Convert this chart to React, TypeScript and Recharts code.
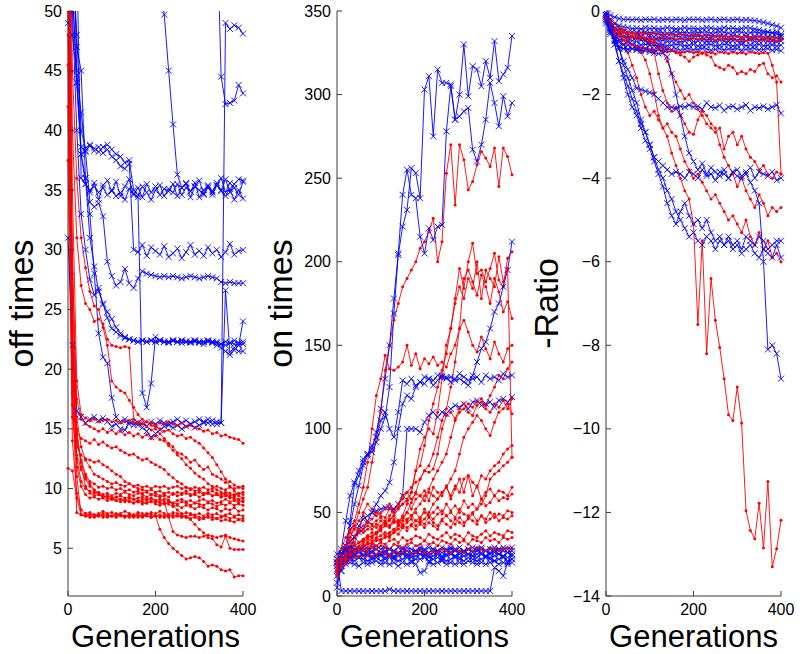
import { LineChart, Line, XAxis, YAxis } from "recharts";

const GENS = [
  0, 10, 20, 30, 40, 50, 60, 70, 80, 90,
  100, 110, 120, 130, 140, 150, 160, 170, 180, 190,
  200, 210, 220, 230, 240, 250, 260, 270, 280, 290,
  300, 310, 320, 330, 340, 350, 360, 370, 380, 390, 400,
];
const X_TICKS = [0, 200, 400];
const OFF_TICKS = [5, 10, 15, 20, 25, 30, 35, 40, 45, 50];
const ON_TICKS = [0, 50, 100, 150, 200, 250, 300, 350];
const RATIO_TICKS = [-14, -12, -10, -8, -6, -4, -2, 0];

// off times, red runs
const OFF_RED = [
  [70, 24, 11, 7.8, 7.7, 7.8, 7.6, 7.7, 7.8, 7.6,
   7.7, 7.6, 7.8, 7.7, 7.6, 7.7, 7.8, 7.6, 7.7, 7.6,
   7.7, 6.6, 5.9, 5.4, 5.0, 4.7, 4.4, 4.1, 4.2, 4.3,
   4.2, 3.9, 3.5, 3.6, 3.5, 3.2, 3.1, 3.2, 2.6, 2.7, 2.7],
  [60, 30, 15, 11.8, 10.2, 9.6, 9.4, 9.5, 9.3, 9.4,
   9.2, 9.3, 9.4, 9.2, 9.3, 9.1, 9.2, 9.3, 9.1, 9.2,
   9.0, 9.1, 8.9, 7.6, 6.4, 6.1, 6.0, 5.9, 6.0, 6.0,
   5.9, 6.0, 6.1, 6.0, 5.9, 6.0, 6.1, 5.9, 5.8, 5.7, 5.6],
  [45.5, 20, 14, 12.4, 11.2, 10.6, 10.4, 10.1, 10.2, 10.0,
   10.1, 9.9, 10.0, 9.8, 9.9, 9.7, 9.8, 9.6, 9.7, 9.5,
   9.4, 9.3, 9.4, 9.0, 8.6, 8.2, 7.9, 7.6, 7.4, 7.0,
   6.6, 6.3, 5.9, 5.8, 5.3, 5.1, 6.0, 5.0, 4.9, 4.9, 4.9],
  [80, 19, 8.0, 7.8, 7.7, 7.6, 7.7, 7.8, 7.6, 7.7,
   7.7, 7.8, 7.7, 7.6, 7.8, 7.7, 7.6, 7.7, 7.8, 7.6,
   7.7, 7.6, 7.7, 7.8, 7.6, 7.7, 7.7, 7.6, 7.8, 7.7,
   7.6, 7.5, 7.7, 7.6, 7.5, 7.6, 7.7, 7.5, 7.6, 7.4, 7.5],
  [37.5, 14, 9.6, 8.2, 7.9, 7.8, 7.8, 7.7, 7.9, 7.8,
   7.7, 7.9, 7.8, 7.7, 7.8, 7.6, 7.8, 7.7, 7.9, 7.8,
   7.7, 7.8, 7.6, 7.7, 7.8, 7.7, 7.6, 7.7, 7.5, 7.6,
   7.4, 7.5, 7.6, 7.4, 7.5, 7.3, 7.4, 7.3, 7.2, 7.4, 7.3],
  [11.7, 11.5, 9.2, 7.8, 7.9, 8.0, 7.8, 7.9, 8.1, 7.9,
   8.0, 7.8, 7.9, 8.1, 7.9, 7.8, 8.0, 7.9, 7.8, 8.0,
   7.9, 8.1, 7.9, 7.8, 8.0, 7.9, 7.8, 8.0, 7.9, 7.8,
   7.9, 7.7, 7.9, 7.8, 7.9, 7.7, 7.8, 7.9, 7.7, 7.8, 7.7],
  [55, 26, 16, 13.5, 12.4, 11.8, 11.2, 11.0, 10.8, 10.6,
   10.4, 10.5, 10.3, 10.2, 10.4, 10.2, 10.3, 10.1, 10.2, 10.0,
   10.2, 10.1, 10.2, 10.0, 10.1, 10.2, 10.0, 10.1, 9.9, 10.1,
   10.0, 10.1, 9.9, 10.0, 10.2, 10.0, 9.9, 10.1, 10.0, 10.1, 10.0],
  [65, 20, 12.5, 10.6, 10.0, 9.8, 9.6, 9.7, 9.5, 9.6,
   9.4, 9.6, 9.5, 9.7, 9.5, 9.4, 9.6, 9.5, 9.3, 9.5,
   9.6, 9.4, 9.5, 9.3, 9.6, 9.4, 9.5, 9.6, 9.4, 9.5,
   9.3, 9.5, 9.6, 9.4, 9.5, 9.3, 9.6, 9.4, 9.5, 9.6, 9.5],
  [48, 17, 11.8, 10.2, 9.5, 9.2, 9.3, 9.1, 9.2, 9.0,
   9.1, 9.3, 9.1, 9.0, 9.2, 9.1, 8.9, 9.1, 9.0, 9.2,
   9.0, 8.9, 9.1, 9.0, 8.8, 9.0, 9.1, 8.9, 9.0, 8.8,
   9.0, 9.1, 8.9, 9.0, 8.8, 8.9, 9.1, 8.9, 9.0, 8.8, 9.0],
  [58, 22, 14.5, 12.2, 11.0, 10.4, 9.9, 9.6, 9.4, 9.2,
   9.1, 9.0, 8.9, 9.1, 8.9, 8.8, 9.0, 8.9, 8.8, 9.0,
   8.9, 8.8, 8.7, 8.9, 8.8, 8.7, 8.9, 8.8, 8.6, 8.8,
   8.7, 8.6, 8.8, 8.7, 8.5, 8.7, 8.6, 8.8, 8.6, 8.7, 8.6],
  [42, 16, 12.8, 11.6, 10.8, 10.2, 9.8, 9.5, 9.3, 9.4,
   9.2, 9.0, 9.1, 8.9, 9.0, 8.8, 8.9, 8.7, 8.8, 8.9,
   8.7, 8.6, 8.8, 8.7, 8.5, 8.6, 8.4, 8.6, 8.5, 8.3,
   8.5, 8.4, 8.2, 8.4, 8.3, 8.1, 8.3, 8.2, 8.4, 8.1, 8.2],
  [70, 35, 19, 16.2, 15.9, 15.7, 15.8, 15.6, 15.7, 15.8,
   15.6, 15.7, 15.5, 15.6, 15.7, 15.5, 15.6, 15.4, 15.6, 15.5,
   15.3, 15.5, 15.4, 15.6, 15.4, 15.3, 15.5, 15.2, 15.3, 15.1,
   15.0, 14.8, 14.9, 14.6, 14.7, 14.4, 14.5, 14.3, 14.2, 14.1, 13.8],
  [52, 28, 17.5, 15.8, 15.4, 15.2, 15.0, 14.8, 15.0, 14.7,
   14.9, 14.6, 14.8, 14.5, 14.7, 14.4, 14.6, 14.3, 14.5, 14.2,
   14.4, 14.1, 14.0, 13.6, 13.2, 12.8, 12.5, 12.0, 11.7, 11.3,
   11.0, 10.8, 10.4, 10.2, 9.9, 9.7, 9.5, 9.3, 9.1, 9.0, 8.9],
  [75, 45, 36, 31, 28.5, 26.5, 25.3, 25.0, 23.5, 22.0,
   19.0, 18.5, 18.2, 18.0, 17.4, 16.8, 16.2, 15.8, 15.2, 14.9,
   15.0, 14.6, 14.2, 13.8, 13.5, 13.0, 12.9, 12.6, 12.2, 12.4,
   11.9, 11.6, 11.8, 11.2, 11.0, 10.8, 10.5, 10.6, 10.3, 10.1, 10.2],
  [66, 40, 31, 27, 25.5, 25.0, 24.0, 24.2, 23.8, 22.5,
   22.0, 21.9, 21.8, 21.9, 21.8, 15.8, 15.5, 15.4, 15.6, 15.3,
   15.2, 15.0, 14.8, 14.9, 14.6, 14.4, 14.5, 14.2, 14.3, 14.0,
   13.8, 13.4, 13.0, 12.6, 12.0, 11.4, 10.8, 10.2, 9.8, 9.4, 9.2],
  [50, 18, 13.5, 12.8, 12.5, 12.4, 12.2, 12.3, 12.0, 11.8,
   11.5, 11.2, 11.0, 10.6, 10.4, 10.2, 10.0, 9.9, 9.8, 9.9,
   9.7, 9.8, 9.6, 9.7, 9.5, 9.7, 9.6, 9.8, 9.5, 9.6,
   9.7, 9.5, 9.6, 9.8, 9.6, 9.5, 9.7, 9.6, 9.4, 9.6, 9.7],
  [62, 24, 14.8, 14.2, 14.0, 13.8, 14.1, 13.7, 13.9, 13.6,
   13.4, 13.5, 13.2, 13.0, 12.8, 12.9, 12.6, 12.4, 12.5, 12.2,
   12.0, 11.8, 11.6, 11.2, 10.9, 10.6, 10.4, 10.1, 10.0, 9.8,
   9.9, 9.6, 9.7, 9.4, 9.5, 9.3, 9.4, 9.2, 9.3, 9.1, 9.2],
];

// off times, blue runs
const OFF_BLUE = [
  [49, 60, 55, 36, 35.5, 34.8, 35.6, 34.2, 35.4, 35.8,
   34.9, 35.7, 34.5, 35.3, 35.9, 34.6, 35.2, 34.4, 35.5, 34.8,
   35.3, 34.6, 35.1, 34.9, 35.5, 34.5, 35.2, 35.6, 34.4, 35.3,
   35.8, 34.7, 35.4, 34.9, 35.6, 35.0, 35.9, 34.8, 35.5, 35.9, 35.8],
  [65, 52, 44, 38.6, 38.3, 38.7, 38.5, 38.2, 38.6, 38.8,
   38.4, 38.0, 37.8, 37.3, 37.5, 35.0, 34.6, 35.3, 34.8, 34.2,
   35.0, 35.4, 34.5, 35.1, 34.8, 35.5, 34.6, 35.2, 34.9, 35.6,
   34.4, 35.0, 35.3, 34.6, 35.4, 34.9, 34.5, 35.1, 34.2, 35.0, 34.3],
  [58, 48, 44.6, 41.5, 38.2, 34.0, 33.6, 33.9, 32.8, 29.0,
   27.8, 27.0, 27.3, 28.4, 27.2, 26.8, 27.6, 28.2, 28.0, 27.9,
   27.8, 27.7, 27.8, 27.7, 27.8, 27.7, 27.6, 27.7, 27.8, 27.7,
   27.6, 27.7, 27.8, 27.7, 27.6, 27.3, 27.2, 27.3, 27.2, 27.2, 27.2],
  [70, 55, 48, 40, 38.5, 38.8, 38.3, 38.6, 38.1, 38.4,
   37.8, 37.5, 37.0, 36.8, 37.2, 30.0, 29.8, 30.4, 29.5, 30.2,
   29.9, 29.6, 30.3, 29.4, 29.7, 30.1, 29.3, 29.8, 30.4, 29.6,
   29.9, 29.5, 30.2, 29.7, 30.0, 29.4, 29.8, 30.5, 29.6, 29.9, 30.0],
  [75, 56, 47, 45, 36, 31, 28.6, 26.5, 25.5, 24.3,
   23.4, 23.1, 22.8, 22.7, 22.5, 22.4, 22.3, 22.4, 22.3, 22.4,
   22.3, 22.4, 22.3, 22.3, 22.4, 22.3, 22.4, 22.3, 22.3, 22.4,
   22.3, 22.3, 22.4, 22.3, 22.3, 22.1, 22.0, 22.2, 22.1, 22.0, 22.1],
  [31, 22, 16.5, 16.0, 15.5, 15.8, 16.0, 15.7, 15.9, 15.6,
   15.2, 15.4, 15.0, 14.9, 15.6, 15.3, 15.5, 15.1, 14.8, 14.3,
   14.6, 14.9, 15.2, 15.4, 15.1, 15.3, 15.0, 15.2, 15.4, 15.1,
   15.3, 15.5, 15.8, 15.4, 15.6, 15.5, 49.0, 48.5, 48.8, 48.6, 48.1],
  [70, 60, 45, 38, 35.5, 35.0, 35.3, 34.8, 35.2, 34.6,
   35.0, 34.5, 34.8, 34.2, 35.1, 34.7, 34.4, 18.0, 16.8, 18.8,
   22.7, 22.4, 22.3, 22.2, 22.4, 22.3, 22.2, 22.3, 22.2, 22.3,
   22.2, 22.1, 22.3, 22.2, 22.0, 22.1, 22.3, 22.2, 22.4, 22.2, 22.3],
  [55, 58, 60, 62, 64, 66, 63, 60, 62, 65,
   63, 58, 60, 62, 57, 60, 55, 58, 60, 56,
   54, 52, 49.7, 45, 40.5, 36.3, 35.2, 35.5, 34.9, 35.3,
   35.0, 34.6, 35.2, 34.8, 35.4, 36.0, 34.8, 35.6, 35.2, 34.6, 35.7],
  [65, 62, 58, 60, 63, 61, 64, 62, 65, 60,
   62, 64, 61, 63, 60, 62, 64, 61, 63, 60,
   62, 64, 61, 63, 60, 62, 64, 61, 63, 60,
   62, 64, 61, 60, 58, 44.5, 42.2, 42.3, 42.5, 43.8, 43.1],
  [60, 50, 40, 33, 30, 27.5, 26.2, 26.8, 25.4, 24.8,
   24.2, 23.5, 23.0, 22.6, 22.5, 22.4, 22.3, 22.4, 22.3, 22.4,
   22.3, 22.4, 22.3, 22.3, 22.4, 22.3, 22.4, 22.3, 22.3, 22.4,
   22.3, 22.3, 22.4, 22.3, 22.2, 21.8, 21.5, 21.2, 21.6, 22.0, 24.0],
  [60, 52, 44, 38, 36, 33, 28, 23, 21, 20.5,
   17.6, 16.0, 15.6, 15.8, 15.4, 15.6, 15.3, 15.5, 15.2, 15.6,
   15.4, 15.7, 15.5, 15.3, 15.6, 15.8, 15.5, 15.7, 15.4, 15.6,
   15.8, 15.6, 15.5, 15.7, 15.4, 15.5, 26.6, 21.4, 21.8, 21.5, 21.5],
];

// on times, red runs
const ON_RED = [
  [20, 23, 28, 35, 42, 50, 58, 65, 80, 95,
   110, 135, 150, 165, 175, 185, 190, 195, 200, 208,
   212, 218, 226, 200, 212, 253, 270, 234, 270, 261,
   243, 248, 258, 266, 262, 257, 268, 245, 268, 263, 252],
  [18, 22, 25, 28, 30, 32, 33, 35, 36, 38,
   40, 42, 45, 48, 52, 55, 58, 62, 75, 78,
   90, 105, 115, 125, 135, 145, 160, 178, 196, 184,
   200, 211, 193, 195, 188, 196, 205, 189, 185, 202, 206],
  [15, 18, 20, 22, 25, 28, 30, 32, 35, 38,
   42, 45, 48, 52, 55, 58, 62, 65, 68, 70,
   75, 78, 85, 95, 105, 112, 125, 140, 160, 190,
   195, 188, 180, 192, 185, 175, 190, 182, 170, 176, 166],
  [20, 24, 30, 38, 45, 55, 65, 80, 100, 120,
   130, 144, 136, 135, 137, 140, 150, 138, 145, 136,
   142, 139, 143, 138, 140, 137, 145, 150, 160, 165,
   158, 150, 146, 155, 148, 142, 152, 145, 140, 148, 150],
  [15, 20, 25, 30, 35, 40, 42, 44, 43, 45,
   47, 44, 46, 48, 45, 47, 50, 48, 52, 55,
   60, 64, 70, 75, 80, 85, 95, 105, 110, 112,
   115, 113, 116, 118, 114, 120, 125, 132, 130, 136, 140],
  [12, 18, 22, 26, 28, 30, 32, 34, 33, 35,
   36, 38, 37, 40, 42, 45, 50, 56, 62, 70,
   75, 74, 76, 85, 100, 108, 110, 106, 112, 115,
   110, 108, 114, 116, 112, 110, 115, 113, 117, 112, 118],
  [14, 18, 22, 25, 27, 28, 30, 31, 32, 34,
   33, 35, 36, 38, 40, 42, 41, 43, 45, 44,
   46, 50, 55, 58, 62, 65, 70, 75, 85, 95,
   100, 104, 108, 105, 100, 96, 104, 110, 112, 115, 109],
  [16, 20, 24, 28, 32, 38, 50, 55, 52, 48,
   50, 52, 55, 50, 53, 55, 57, 52, 58, 60,
   57, 62, 60, 58, 62, 65, 60, 66, 62, 70,
   72, 68, 65, 72, 70, 75, 78, 80, 85, 88, 90],
  [18, 22, 25, 28, 30, 32, 34, 36, 35, 38,
   40, 42, 41, 44, 45, 43, 46, 48, 45, 47,
   50, 48, 46, 49, 51, 48, 50, 47, 52, 49,
   48, 50, 52, 55, 60, 70, 73, 75, 78, 80, 83],
  [20, 25, 30, 35, 40, 45, 48, 44, 46, 50,
   48, 47, 52, 50, 55, 60, 62, 58, 61, 60,
   63, 57, 65, 62, 60, 66, 58, 64, 70, 62,
   72, 60, 66, 58, 62, 64, 60, 63, 62, 60, 65],
  [22, 28, 35, 40, 42, 40, 38, 40, 42, 41,
   45, 43, 42, 46, 44, 47, 45, 48, 50, 46,
   52, 48, 50, 53, 49, 55, 51, 54, 50, 57,
   53, 55, 52, 58, 54, 56, 60, 57, 59, 58, 61],
  [15, 20, 26, 32, 36, 38, 40, 42, 40, 43,
   41, 44, 42, 45, 43, 41, 44, 46, 42, 45,
   43, 47, 44, 42, 46, 48, 45, 43, 47, 44,
   46, 49, 45, 48, 46, 50, 47, 49, 48, 51, 50],
  [18, 22, 25, 28, 30, 32, 34, 36, 38, 37,
   39, 36, 38, 40, 37, 41, 39, 42, 40, 43,
   41, 44, 42, 40, 45, 43, 41, 46, 44, 42,
   47, 45, 43, 48, 44, 46, 49, 45, 47, 46, 48],
  [14, 18, 22, 25, 27, 28, 30, 29, 31, 30,
   32, 31, 33, 34, 32, 35, 33, 34, 36, 35,
   33, 37, 35, 34, 36, 38, 35, 37, 36, 34,
   38, 36, 35, 37, 39, 36, 38, 37, 36, 39, 38],
  [16, 20, 23, 25, 26, 27, 28, 27, 29, 28,
   30, 29, 28, 31, 30, 29, 31, 32, 30, 31,
   33, 31, 32, 30, 33, 32, 31, 34, 32, 33,
   31, 34, 33, 32, 35, 33, 34, 32, 35, 34, 35],
  [12, 17, 20, 22, 23, 24, 24, 25, 24, 25,
   26, 25, 24, 26, 25, 26, 27, 25, 26, 27,
   26, 25, 27, 26, 28, 27, 26, 28, 27, 26,
   28, 27, 29, 28, 27, 29, 28, 27, 28, 29, 28],
  [14, 18, 22, 25, 27, 29, 30, 32, 31, 33,
   34, 36, 35, 38, 42, 48, 55, 62, 75, 88,
   95, 100, 97, 110, 130, 150, 160, 175, 185, 178,
   190, 184, 200, 178, 195, 190, 185, 203, 188, 196, 83],
];

// on times, blue runs
const ON_BLUE = [
  [20, 15, 28, 45, 67, 72, 80, 85, 86, 92,
   100, 107, 125, 169, 204, 221, 231, 256, 253, 238,
   303, 311, 275, 315, 307, 307, 306, 285, 300, 330,
   299, 317, 315, 305, 320, 310, 332, 308, 312, 316, 335],
  [18, 22, 30, 42, 55, 66, 78, 84, 88, 98,
   112, 130, 150, 178, 205, 240, 255, 240, 238, 215,
   205, 220, 213, 221, 222, 278, 305, 285, 287, 290,
   292, 267, 260, 270, 285, 307, 295, 281, 299, 287, 295],
  [16, 20, 24, 28, 35, 42, 46, 48, 50, 51,
   52, 53, 53, 52, 55, 60, 100, 100, 100, 98,
   104, 108, 110, 107, 110, 109, 112, 114, 113, 115,
   112, 116, 117, 114, 115, 116, 113, 117, 118, 116, 119],
  [22, 28, 45, 60, 68, 75, 82, 85, 90, 95,
   105, 110, 100, 95, 110, 129, 127, 130, 126, 128,
   131, 130, 129, 132, 131, 130, 131, 129, 130, 128,
   126, 132, 140, 148, 152, 160, 170, 175, 185, 195, 212],
  [20, 25, 30, 33, 35, 38, 40, 45, 50, 55,
   60, 63, 68, 80, 100, 115, 120, 118, 125, 128,
   127, 130, 126, 129, 132, 131, 128, 130, 133, 131,
   129, 130, 131, 128, 132, 130, 131, 129, 133, 131, 132],
  [20, 3, 3, 3, 3, 3, 3, 3, 3, 3,
   3, 3, 4, 3, 3, 3, 3, 3, 3, 3,
   3, 3, 3, 3, 3, 3, 3, 3, 3, 3,
   3, 3, 3, 3, 3, 3, 17, 15, 12, 20, 22],
  [12, 24, 27, 26, 27, 28, 27, 26, 27, 28,
   26, 27, 28, 27, 26, 28, 27, 26, 27, 28,
   27, 26, 28, 27, 26, 27, 28, 27, 26, 27,
   28, 26, 27, 28, 27, 26, 27, 28, 27, 26, 27],
  [18, 22, 25, 24, 25, 26, 24, 25, 26, 25,
   24, 26, 25, 24, 25, 26, 25, 24, 26, 25,
   25, 24, 26, 25, 24, 25, 26, 24, 25, 26,
   25, 24, 25, 26, 24, 25, 26, 25, 24, 26, 25],
  [8, 18, 21, 22, 21, 23, 22, 21, 22, 23,
   21, 22, 23, 22, 21, 22, 23, 21, 22, 22,
   23, 21, 22, 23, 22, 21, 22, 23, 22, 21,
   23, 22, 21, 22, 23, 22, 21, 22, 23, 21, 22],
  [22, 15, 19, 20, 19, 18, 20, 19, 20, 21,
   19, 20, 19, 20, 18, 20, 19, 20, 19, 14,
   15, 20, 19, 20, 21, 19, 20, 19, 20, 19,
   21, 20, 19, 20, 19, 20, 21, 19, 20, 19, 20],
  [25, 26, 28, 29, 28, 27, 29, 28, 29, 30,
   28, 29, 28, 27, 29, 28, 29, 28, 27, 29,
   28, 29, 28, 27, 29, 28, 29, 28, 29, 27,
   28, 29, 28, 29, 27, 28, 29, 28, 29, 28, 29],
  [5, 20, 24, 23, 24, 23, 25, 24, 23, 24,
   25, 23, 24, 23, 24, 25, 24, 23, 24, 25,
   24, 23, 24, 25, 23, 24, 25, 24, 23, 24,
   25, 24, 23, 25, 24, 23, 24, 25, 24, 23, 24],
];

// -Ratio, red runs
const RATIO_RED = [
  [-0.1, -0.25, -0.4, -0.5, -0.6, -0.7, -0.8, -0.9, -1.0, -1.17,
   -1.5, -1.95, -2.5, -2.8, -3.0, -3.4, -3.7, -4.0, -4.3, -4.5,
   -5.1, -7.5, -5.5, -8.2, -6.4, -7.4, -8.05, -8.8, -9.66, -9.8,
   -9.0, -9.86, -11.96, -12.43, -12.63, -11.78, -12.85, -11.26, -13.3, -12.87, -12.19],
  [-0.1, -0.3, -0.5, -0.7, -0.8, -1.0, -1.3, -1.6, -2.0, -2.3,
   -2.5, -2.4, -2.6, -2.8, -2.7, -2.9, -3.0, -3.3, -3.6, -3.8,
   -4.0, -3.9, -4.1, -4.3, -4.5, -4.4, -4.6, -4.8, -5.0, -4.9,
   -5.1, -5.3, -5.0, -5.4, -5.6, -5.3, -5.7, -5.5, -5.9, -5.8, -6.0],
  [-0.2, -0.4, -0.5, -0.55, -0.6, -0.62, -0.6, -0.65, -0.63, -0.7,
   -0.8, -1.0, -1.5, -1.9, -2.2, -2.4, -2.3, -2.5, -2.7, -2.9,
   -2.95, -2.6, -2.4, -2.5, -2.7, -2.8, -3.2, -3.5, -3.7, -3.9,
   -4.2, -4.0, -4.3, -4.5, -4.7, -4.4, -4.6, -4.9, -4.7, -4.8, -4.7],
  [-0.1, -0.25, -0.4, -0.45, -0.5, -0.55, -0.6, -0.62, -0.65, -0.7,
   -0.75, -0.8, -0.85, -1.0, -1.2, -1.5, -1.7, -1.9, -2.1, -2.0,
   -2.2, -2.35, -2.5, -2.7, -2.8, -2.9, -2.8, -3.3, -3.0, -2.9,
   -3.2, -3.0, -3.3, -3.5, -3.6, -3.8, -3.7, -3.9, -4.0, -3.85, -3.9],
  [-0.1, -0.2, -0.3, -0.4, -0.45, -0.5, -0.52, -0.55, -0.6, -0.65,
   -0.7, -0.75, -0.8, -0.85, -0.9, -0.95, -1.0, -1.05, -1.1, -1.2,
   -1.1, -1.05, -1.0, -1.05, -1.1, -1.3, -1.35, -1.4, -1.3, -1.35,
   -1.5, -1.45, -1.5, -1.4, -1.45, -1.3, -1.25, -1.5, -1.6, -1.55, -1.7],
  [-0.15, -0.4, -0.55, -0.6, -0.62, -0.65, -0.63, -0.66, -0.64, -0.67,
   -0.65, -0.68, -0.66, -0.64, -0.67, -0.65, -0.68, -0.66, -0.69, -0.67,
   -0.65, -0.68, -0.66, -0.69, -0.67, -0.7, -0.68, -0.66, -0.69, -0.67,
   -0.7, -0.68, -0.71, -0.69, -0.67, -0.7, -0.68, -0.71, -0.69, -0.72, -0.7],
  [-0.1, -0.3, -0.45, -0.5, -0.52, -0.5, -0.53, -0.55, -0.52, -0.54,
   -0.56, -0.53, -0.55, -0.57, -0.54, -0.56, -0.58, -0.55, -0.57, -0.6,
   -0.56, -0.58, -0.6, -0.57, -0.59, -0.61, -0.58, -0.6, -0.62, -0.59,
   -0.61, -0.63, -0.6, -0.62, -0.64, -0.61, -0.63, -0.65, -0.62, -0.64, -0.66],
  [-0.2, -0.35, -0.5, -0.6, -0.7, -0.75, -0.8, -0.85, -0.88, -0.9,
   -0.92, -0.95, -0.93, -0.96, -0.98, -0.95, -0.97, -1.0, -0.98, -0.97,
   -1.0, -0.98, -1.02, -0.99, -1.0, -1.03, -0.98, -1.0, -1.02, -0.99,
   -1.01, -1.0, -1.03, -0.98, -1.0, -1.02, -1.0, -1.01, -1.3, -1.7, -3.9],
];

// -Ratio, blue runs
const RATIO_BLUE = [
  [-0.05, -0.1, -0.15, -0.18, -0.2, -0.2, -0.21, -0.2, -0.22, -0.2,
   -0.21, -0.2, -0.22, -0.21, -0.2, -0.22, -0.2, -0.21, -0.22, -0.2,
   -0.21, -0.2, -0.22, -0.21, -0.2, -0.22, -0.21, -0.2, -0.22, -0.21,
   -0.2, -0.22, -0.21, -0.22, -0.23, -0.25, -0.27, -0.3, -0.33, -0.36, -0.4],
  [-0.1, -0.3, -0.42, -0.48, -0.5, -0.52, -0.5, -0.51, -0.53, -0.5,
   -0.52, -0.51, -0.5, -0.52, -0.53, -0.51, -0.5, -0.52, -0.51, -0.53,
   -0.5, -0.52, -0.51, -0.5, -0.53, -0.52, -0.5, -0.51, -0.53, -0.52,
   -0.5, -0.51, -0.53, -0.52, -0.5, -0.52, -0.53, -0.51, -0.52, -0.5, -0.55],
  [-0.2, -0.4, -0.55, -0.6, -0.62, -0.6, -0.63, -0.61, -0.62, -0.64,
   -0.6, -0.62, -0.63, -0.61, -0.62, -0.64, -0.6, -0.62, -0.63, -0.61,
   -0.62, -0.6, -0.63, -0.62, -0.64, -0.61, -0.62, -0.6, -0.63, -0.62,
   -0.61, -0.63, -0.62, -0.64, -0.6, -0.62, -0.63, -0.61, -0.62, -0.64, -0.62],
  [-0.15, -0.45, -0.6, -0.68, -0.7, -0.72, -0.71, -0.73, -0.7, -0.72,
   -0.74, -0.71, -0.72, -0.7, -0.73, -0.72, -0.71, -0.74, -0.72, -0.7,
   -0.73, -0.72, -0.71, -0.73, -0.72, -0.74, -0.7, -0.72, -0.73, -0.71,
   -0.72, -0.74, -0.72, -0.7, -0.73, -0.72, -0.71, -0.73, -0.72, -0.74, -0.72],
  [-0.25, -0.5, -0.66, -0.75, -0.8, -0.82, -0.8, -0.83, -0.81, -0.8,
   -0.82, -0.84, -0.81, -0.8, -0.83, -0.82, -0.8, -0.81, -0.83, -0.82,
   -0.8, -0.84, -0.82, -0.81, -0.8, -0.83, -0.82, -0.8, -0.81, -0.84,
   -0.82, -0.8, -0.83, -0.81, -0.82, -0.8, -0.83, -0.82, -0.81, -0.84, -0.82],
  [-0.3, -0.55, -0.72, -0.85, -0.9, -0.92, -0.9, -0.93, -0.91, -0.9,
   -0.94, -0.92, -0.9, -0.91, -0.93, -0.92, -0.9, -0.94, -0.91, -0.9,
   -0.93, -0.92, -0.9, -0.91, -0.94, -0.92, -0.9, -0.93, -0.91, -0.92,
   -0.9, -0.94, -0.92, -0.91, -0.9, -0.93, -0.92, -0.9, -0.94, -0.92, -0.95],
  [-0.05, -0.2, -0.3, -0.35, -0.38, -0.4, -0.42, -0.41, -0.43, -0.4,
   -0.42, -0.41, -0.43, -0.42, -0.4, -0.41, -0.43, -0.42, -0.4, -0.42,
   -0.41, -0.43, -0.42, -0.4, -0.41, -0.43, -0.42, -0.4, -0.42, -0.41,
   -0.43, -0.42, -0.4, -0.41, -0.43, -0.45, -0.48, -0.5, -0.52, -0.55, -0.6],
  [-0.1, -0.4, -0.7, -0.9, -1.2, -1.4, -1.6, -1.85, -1.88, -1.92,
   -1.95, -2.0, -2.1, -2.2, -2.3, -2.3, -2.35, -2.28, -2.3, -2.25,
   -2.3, -2.28, -2.35, -2.2, -2.3, -2.32, -2.26, -2.38, -2.3, -2.28,
   -2.35, -2.3, -2.25, -2.38, -2.3, -2.32, -2.28, -2.35, -2.3, -2.25, -2.45],
  [-0.2, -0.5, -0.7, -0.85, -0.9, -0.92, -0.9, -0.93, -0.95, -0.95,
   -0.98, -1.0, -1.02, -1.0, -1.1, -1.5, -2.0, -2.5, -3.0, -3.4,
   -3.6, -3.8, -3.65, -3.9, -3.75, -3.85, -3.95, -3.8, -4.0, -3.85,
   -3.8, -3.95, -3.85, -3.75, -4.0, -3.85, -3.9, -3.95, -3.85, -4.05, -4.0],
  [-0.1, -0.35, -0.8, -1.2, -1.5, -1.8, -2.1, -2.4, -2.7, -2.9,
   -3.2, -3.5, -3.6, -3.7, -3.8, -3.9, -3.85, -3.9, -4.0, -3.85,
   -3.9, -4.0, -3.8, -3.95, -3.9, -4.05, -3.85, -3.9, -4.0, -3.85,
   -3.95, -4.0, -3.9, -4.1, -4.3, -4.6, -6.0, -8.1, -8.0, -8.2, -8.8],
  [-0.05, -0.3, -0.6, -0.9, -1.3, -1.6, -1.9, -2.2, -2.6, -2.9,
   -3.2, -3.5, -3.8, -4.0, -4.3, -4.5, -4.8, -5.0, -5.2, -5.4,
   -5.3, -5.5, -5.6, -5.4, -5.5, -5.7, -5.5, -5.6, -5.4, -5.6,
   -5.5, -5.7, -5.4, -5.5, -5.6, -5.4, -5.5, -5.7, -5.6, -5.5, -5.5],
  [-0.1, -0.4, -0.8, -1.2, -1.6, -2.0, -2.3, -2.5, -2.8, -3.1,
   -3.3, -3.6, -3.9, -4.2, -4.6, -4.9, -5.1, -4.8, -4.6, -4.9,
   -5.1, -5.0, -5.2, -5.0, -5.3, -5.5, -5.4, -5.6, -5.5, -5.7,
   -5.6, -5.8, -5.7, -5.6, -5.8, -5.9, -5.7, -5.8, -5.9, -5.6, -5.9],
];

const RED = "#ff0000";
const BLUE = "#0000ff";
const AXIS = "#3a3a3a";
const FONT = '"Liberation Sans", Arial, Helvetica, sans-serif';

function buildRows(red: number[][], blue: number[][]) {
  return GENS.map((g, i) => {
    const row: Record<string, number> = { g };
    red.forEach((s, k) => (row["r" + k] = s[i]));
    blue.forEach((s, k) => (row["b" + k] = s[i]));
    return row;
  });
}

const redDot = (p: any) => {
  if (p.cx == null || p.cy == null) return <g key={p.key} />;
  return <circle key={p.key} cx={p.cx} cy={p.cy} r={1.5} fill={RED} />;
};

const blueCross = (p: any) => {
  if (p.cx == null || p.cy == null) return <g key={p.key} />;
  const s = 3;
  const { cx, cy } = p;
  return (
    <path
      key={p.key}
      d={`M${cx - s},${cy - s}L${cx + s},${cy + s}M${cx - s},${cy + s}L${cx + s},${cy - s}`}
      stroke={BLUE}
      strokeWidth={0.9}
      fill="none"
    />
  );
};

const fmt = (v: number) => (v < 0 ? "\u2212" + Math.abs(v) : String(v));

const leftTick = (p: any) => (
  <g>
    <line x1={p.x + 6} x2={p.x + 11} y1={p.y} y2={p.y} stroke={AXIS} />
    <text x={p.x} y={p.y} dy="0.35em" textAnchor="end" fontSize={16} fill="#000">
      {fmt(p.payload.value)}
    </text>
  </g>
);

const rightTick = (p: any) => (
  <line x1={p.x} x2={p.x - 5} y1={p.y} y2={p.y} stroke={AXIS} />
);

const bottomTick = (p: any) => (
  <g>
    <line x1={p.x} x2={p.x} y1={p.y} y2={p.y - 5} stroke={AXIS} />
    <text x={p.x} y={p.y + 19} textAnchor="middle" fontSize={16} fill="#000">
      {p.payload.value}
    </text>
  </g>
);

const topTick = (p: any) => (
  <line x1={p.x} x2={p.x} y1={p.y} y2={p.y + 5} stroke={AXIS} />
);

interface PanelProps {
  red: number[][];
  blue: number[][];
  domain: [number, number];
  ticks: number[];
  title: string;
  titleX: number;
  left: number;
  width: number;
  yWidth: number;
  right: number;
}

function Panel({ red, blue, domain, ticks, title, titleX, left, width, yWidth, right }: PanelProps) {
  const data = buildRows(red, blue);
  const n = Math.max(red.length, blue.length);
  const series: any[] = [];
  for (let k = 0; k < n; k++) {
    if (k < red.length)
      series.push(
        <Line key={"r" + k} type="linear" dataKey={"r" + k} stroke={RED} strokeWidth={0.9}
          dot={redDot} activeDot={false} isAnimationActive={false} />
      );
    if (k < blue.length)
      series.push(
        <Line key={"b" + k} type="linear" dataKey={"b" + k} stroke={BLUE} strokeWidth={0.9}
          dot={blueCross} activeDot={false} isAnimationActive={false} />
      );
  }
  const yTitle = (p: any) => {
    const vb = p.viewBox || { x: 0, y: 11, width: yWidth, height: 585 };
    const cx = vb.x + titleX;
    const cy = vb.y + vb.height / 2;
    return (
      <text x={cx} y={cy} transform={`rotate(-90, ${cx}, ${cy})`} textAnchor="middle"
        fontSize={34} fill="#000">
        {title}
      </text>
    );
  };
  return (
    <div style={{ position: "absolute", left, top: 0 }}>
      <LineChart width={width} height={654} data={data}
        margin={{ top: 11, right, bottom: 0, left: 0 }}>
        <XAxis dataKey="g" type="number" domain={[0, 400]} ticks={X_TICKS} interval={0}
          height={58} tickSize={0} tickMargin={0} tick={bottomTick} stroke={AXIS}
          label={{ value: "Generations", position: "insideBottom", offset: 7, fontSize: 31, fill: "#000" }} />
        <XAxis xAxisId="t" orientation="top" dataKey="g" type="number" domain={[0, 400]}
          ticks={X_TICKS} interval={0} height={0} tickSize={0} tickMargin={0} tick={topTick} stroke={AXIS} />
        <YAxis type="number" domain={domain} ticks={ticks} interval={0} allowDataOverflow
          width={yWidth} tickSize={0} tickMargin={6} tick={leftTick} stroke={AXIS} label={yTitle} />
        <YAxis yAxisId="r" orientation="right" type="number" domain={domain} ticks={ticks}
          interval={0} allowDataOverflow width={0} tickSize={0} tickMargin={0} tick={rightTick} stroke={AXIS} />
        {series}
      </LineChart>
    </div>
  );
}

export default function App() {
  return (
    <div style={{ position: "absolute", left: 0, top: 0, width: 800, height: 654, background: "#fff", fontFamily: FONT }}>
      <Panel red={OFF_RED} blue={OFF_BLUE} domain={[1, 50]} ticks={OFF_TICKS} title="off times"
        titleX={33} left={0} width={262} yWidth={68} right={19} />
      <Panel red={ON_RED} blue={ON_BLUE} domain={[0, 350]} ticks={ON_TICKS} title="on times"
        titleX={38} left={254} width={276} yWidth={83} right={18} />
      <Panel red={RATIO_RED} blue={RATIO_BLUE} domain={[-14, 0]} ticks={RATIO_TICKS} title="-Ratio"
        titleX={38} left={520} width={280} yWidth={86} right={19} />
    </div>
  );
}
